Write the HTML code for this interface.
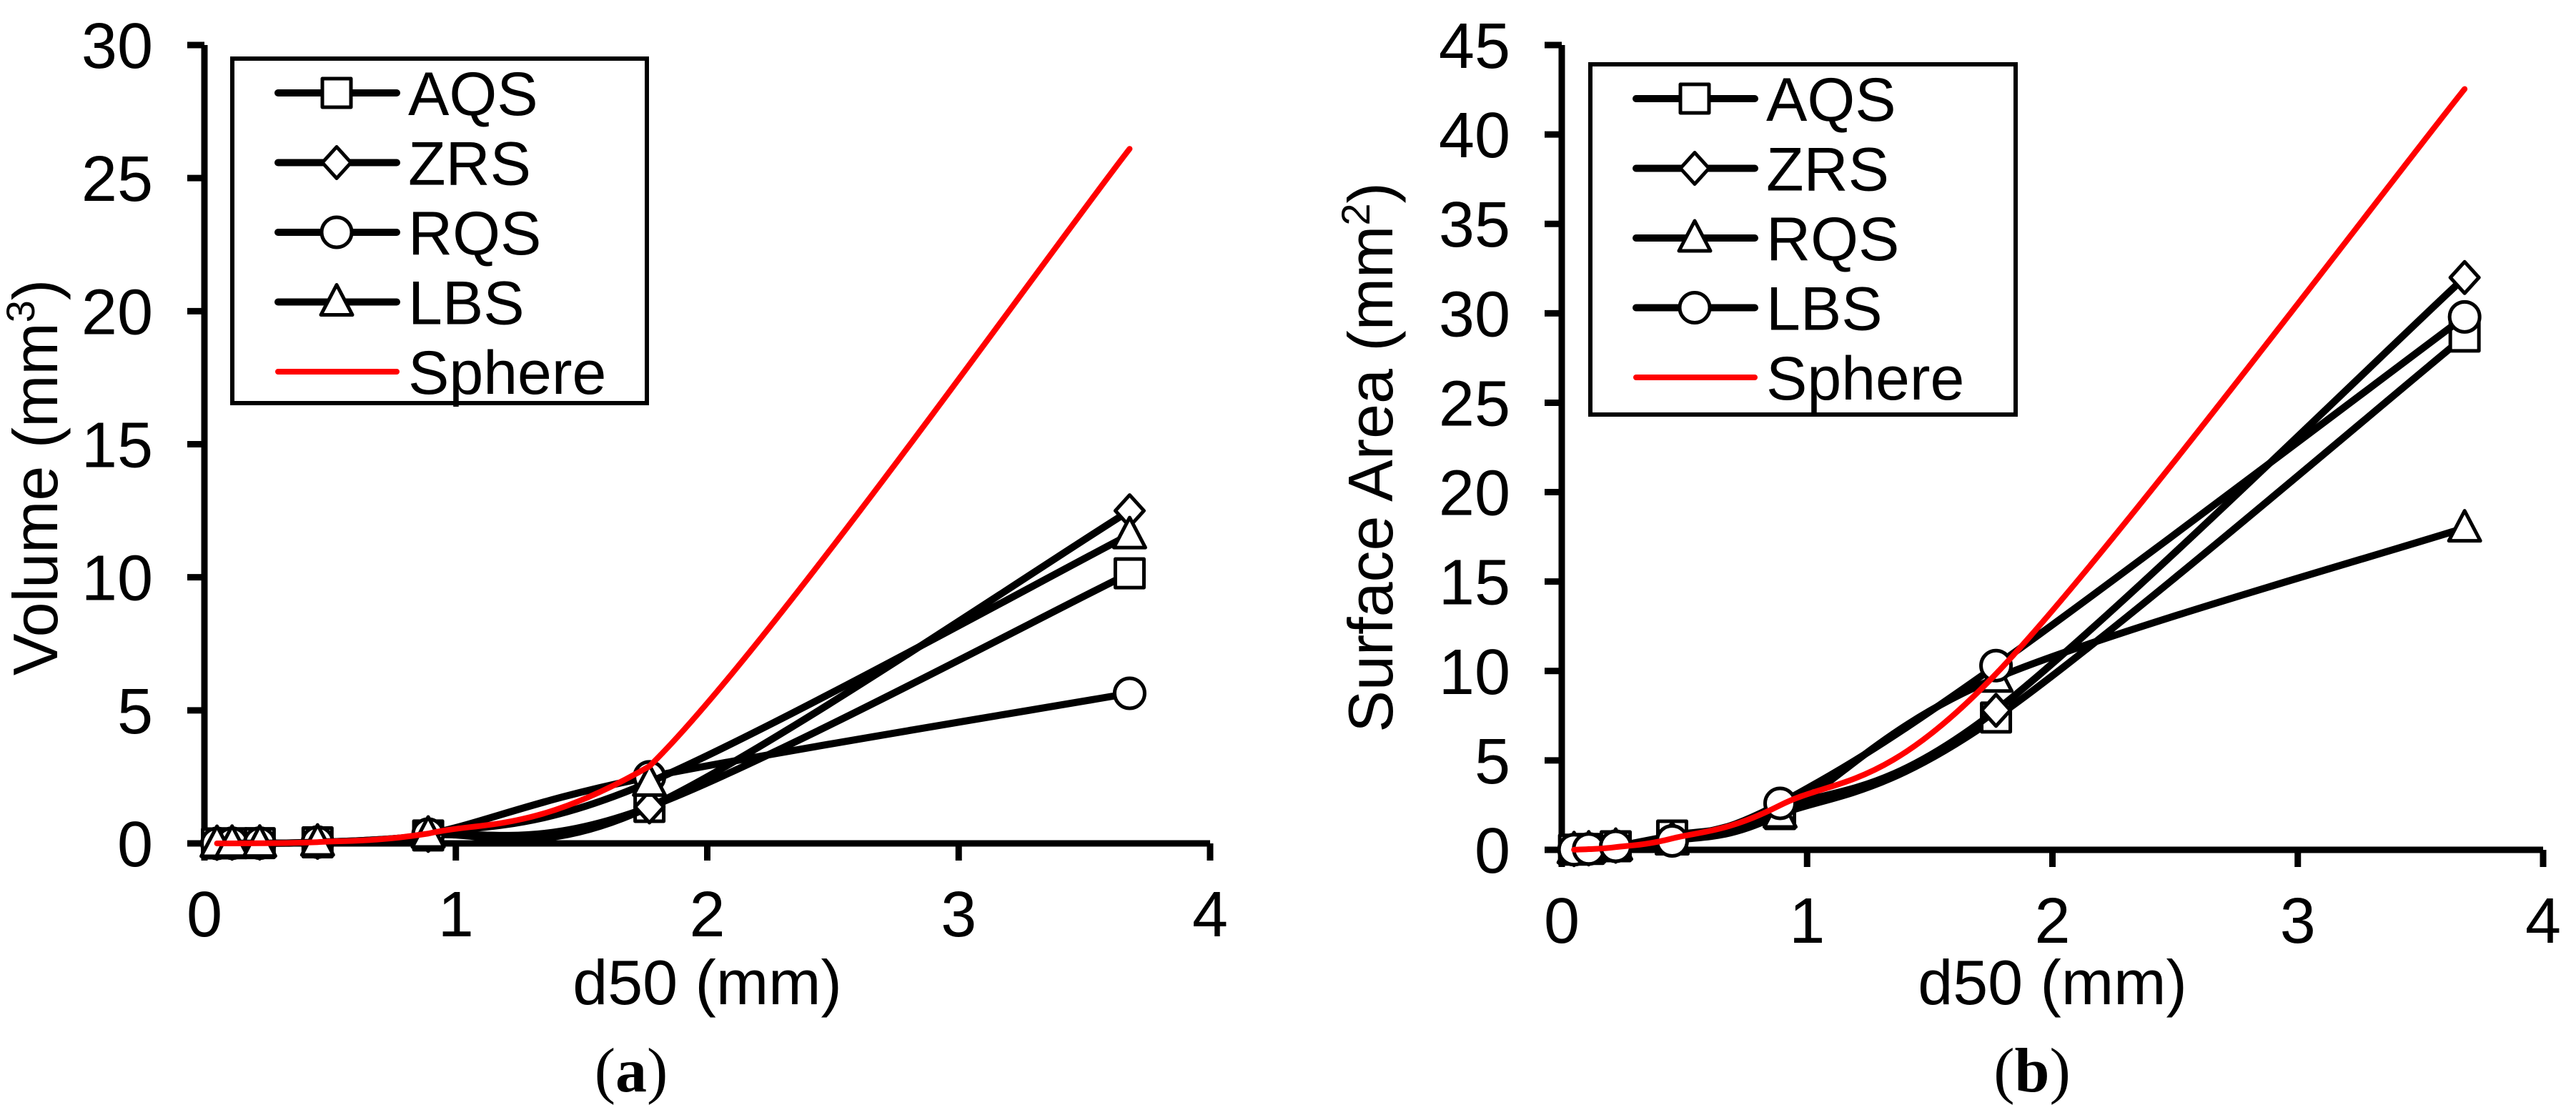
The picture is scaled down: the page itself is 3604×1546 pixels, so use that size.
<!DOCTYPE html>
<html><head><meta charset="utf-8"><style>
html,body{margin:0;padding:0;background:#fff;}
svg{display:block;}
text{font-family:"Liberation Sans",sans-serif;fill:#000;}
.cap{font-family:"Liberation Serif",serif;}
</style></head><body>
<svg id="fig" width="3604" height="1546" viewBox="0 0 3604 1546" xmlns="http://www.w3.org/2000/svg">
<g id="chartA"></g>
<g id="chartB"></g>
<text class="cap" x="883" y="1527" font-size="88" text-anchor="middle">(<tspan font-weight="bold">a</tspan>)</text>
<text class="cap" x="2843" y="1527" font-size="88" text-anchor="middle">(<tspan font-weight="bold">b</tspan>)</text>
</svg>
<script>
const d50 = [0.05, 0.11, 0.22, 0.45, 0.89, 1.77, 3.68];
const xTicks = [0, 1, 2, 3, 4];
const volTicks = [0, 5, 10, 15, 20, 25, 30];
const areaTicks = [0, 5, 10, 15, 20, 25, 30, 35, 40, 45];
const volAQS = [0.001, 0.006, 0.01, 0.04, 0.3, 1.37, 10.15];
const volZRS = [0.001, 0.006, 0.01, 0.04, 0.3, 1.37, 12.5];
const volRQS = [0.001, 0.006, 0.01, 0.05, 0.35, 2.5, 5.64];
const volLBS = [0.001, 0.006, 0.01, 0.05, 0.35, 2.3, 11.6];
const volSphere = [0.00007, 0.0007, 0.0056, 0.048, 0.369, 2.9, 26.1];
const areaAQS = [0.01, 0.05, 0.2, 0.8, 2.0, 7.4, 28.7];
const areaZRS = [0.01, 0.05, 0.2, 0.6, 2.3, 7.8, 32.0];
const areaRQS = [0.01, 0.05, 0.2, 0.5, 2.0, 9.6, 18.0];
const areaLBS = [0.01, 0.05, 0.2, 0.5, 2.6, 10.3, 29.8];
const areaSphere = [0.0079, 0.038, 0.152, 0.636, 2.49, 9.84, 42.54];

const NS = "http://www.w3.org/2000/svg";
function mk(tag, attrs, parent) {
  const e = document.createElementNS(NS, tag);
  for (const k in attrs) e.setAttribute(k, attrs[k]);
  parent.appendChild(e);
  return e;
}
function splinePath(pts, clamp) {
  let d = "M" + pts[0][0] + "," + pts[0][1];
  for (let i = 0; i < pts.length - 1; i++) {
    const p0 = pts[Math.max(i - 1, 0)], p1 = pts[i], p2 = pts[i + 1], p3 = pts[Math.min(i + 2, pts.length - 1)];
    const c1x = p1[0] + (p2[0] - p0[0]) / 6;
    let c1y = p1[1] + (p2[1] - p0[1]) / 6;
    const c2x = p2[0] - (p3[0] - p1[0]) / 6;
    let c2y = p2[1] - (p3[1] - p1[1]) / 6;
    if (clamp) {
      const lo = Math.min(p1[1], p2[1]), hi = Math.max(p1[1], p2[1]);
      c1y = Math.min(hi, Math.max(lo, c1y));
      c2y = Math.min(hi, Math.max(lo, c2y));
    }
    d += " C" + c1x + "," + c1y + " " + c2x + "," + c2y + " " + p2[0] + "," + p2[1];
  }
  return d;
}
function marker(g, type, x, y) {
  let m;
  if (type === "square") m = mk("rect", {x: x - 20, y: y - 20, width: 40, height: 40}, g);
  else if (type === "diamond") m = mk("polygon", {points: `${x},${y-22} ${x+20},${y} ${x},${y+22} ${x-20},${y}`}, g);
  else if (type === "circle") m = mk("circle", {cx: x, cy: y, r: 21}, g);
  else m = mk("polygon", {points: `${x},${y-24} ${x+22},${y+18} ${x-22},${y+18}`}, g);
  m.setAttribute("fill", "#fff");
  m.setAttribute("stroke", "#000");
  m.setAttribute("stroke-width", "5");
  m.setAttribute("stroke-linejoin", "round");
  
  
  return m;
}
function drawChart(g, c) {
  const sx = v => c.x0 + (c.x1 - c.x0) * v / 4;
  const sy = v => c.y0 - (c.y0 - c.yTop) * v / c.yMax;
  const ax = mk("path", {d: `M${c.x0},${c.yTop} V${c.y0} H${c.x1}`, fill: "none", stroke: "#000", "stroke-width": 9}, g);
  
  
  c.yTicks.forEach(t => {
    const tk = mk("line", {x1: c.x0 - 24, x2: c.x0, y1: sy(t), y2: sy(t), stroke: "#000", "stroke-width": 9}, g);
    
    
    const tl = mk("text", {x: c.x0 - 72, y: sy(t) + 32, "font-size": 90, "text-anchor": "end"}, g);
    tl.textContent = t;
    
    
  });
  xTicks.forEach(t => {
    const tk = mk("line", {x1: sx(t), x2: sx(t), y1: c.y0, y2: c.y0 + 24, stroke: "#000", "stroke-width": 9}, g);
    
    
    const tl = mk("text", {x: sx(t), y: c.y0 + 130, "font-size": 90, "text-anchor": "middle"}, g);
    tl.textContent = t;
    
    
  });
  const xt = mk("text", {x: (c.x0 + c.x1) / 2, y: 1405, "font-size": 88, "text-anchor": "middle"}, g);
  xt.textContent = "d50 (mm)";
  
  
  const yt = mk("text", {x: 0, y: 0, "font-size": 88, "text-anchor": "middle", transform: `translate(${c.ytX},${c.ytY}) rotate(-90)`}, g);
  yt.innerHTML = c.yTitle + ' (mm<tspan font-size="56" dy="-32">' + c.sup + '</tspan><tspan dy="32">)</tspan>';
  
  
  c.series.forEach(s => {
    const pts = d50.map((x, i) => [sx(x), sy(s.vals[i])]);
    const sg = mk("g", {}, g);
    
    
    const p = mk("path", {d: splinePath(pts, !s.marker), fill: "none", stroke: s.color, "stroke-width": s.marker ? 10 : 8, "stroke-linecap": "round"}, sg);
    
    
    if (s.marker) pts.forEach(pt => marker(sg, s.marker, pt[0], pt[1]));
  });
  const lg = mk("g", {}, g);
  
  
  const lb = mk("rect", {x: c.lx, y: c.ly, width: c.lw, height: c.lh, fill: "#fff", stroke: "#000", "stroke-width": 6}, lg);
  
  
  c.series.forEach((s, i) => {
    const y = c.ly + 48 + i * 97.5;
    const eg = mk("g", {}, lg);
    
    
    mk("line", {x1: c.lx + 64, x2: c.lx + 230, y1: y, y2: y, stroke: s.color, "stroke-width": s.marker ? 10 : 8, "stroke-linecap": "round"}, eg);
    if (s.marker) marker(eg, s.marker, c.lx + 146, y);
    const t = mk("text", {x: c.lx + 246, y: y + 31, "font-size": 86}, eg);
    t.textContent = s.name;
  });
}
drawChart(document.getElementById("chartA"), {
  x0: 286, x1: 1693, y0: 1180, yTop: 63, yMax: 30, yTicks: volTicks,
  yTitle: "Volume", sup: "3", ytX: 80, ytY: 668,
  lx: 325, ly: 82, lw: 580, lh: 482,
  series: [
    {name: "AQS", vals: volAQS, marker: "square", color: "#000"},
    {name: "ZRS", vals: volZRS, marker: "diamond", color: "#000"},
    {name: "RQS", vals: volRQS, marker: "circle", color: "#000"},
    {name: "LBS", vals: volLBS, marker: "triangle", color: "#000"},
    {name: "Sphere", vals: volSphere, marker: null, color: "#ff0000"}
  ]
});
drawChart(document.getElementById("chartB"), {
  x0: 2185, x1: 3558, y0: 1189, yTop: 63, yMax: 45, yTicks: areaTicks,
  yTitle: "Surface Area", sup: "2", ytX: 1948, ytY: 640,
  lx: 2225, ly: 90, lw: 595, lh: 490,
  series: [
    {name: "AQS", vals: areaAQS, marker: "square", color: "#000"},
    {name: "ZRS", vals: areaZRS, marker: "diamond", color: "#000"},
    {name: "RQS", vals: areaRQS, marker: "triangle", color: "#000"},
    {name: "LBS", vals: areaLBS, marker: "circle", color: "#000"},
    {name: "Sphere", vals: areaSphere, marker: null, color: "#ff0000"}
  ]
});
</script>
</body></html>
